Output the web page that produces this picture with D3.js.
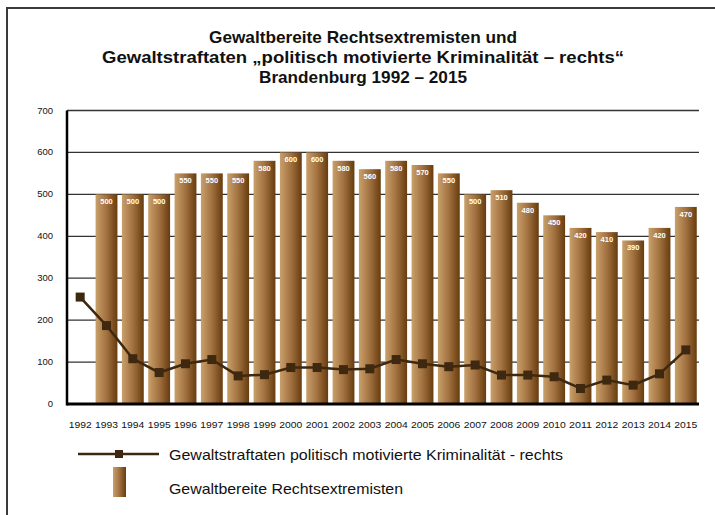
<!DOCTYPE html>
<html>
<head>
<meta charset="utf-8">
<script src="https://cdn.jsdelivr.net/npm/d3@7"></script>
<style>
  body { margin: 0; background: #fff; }
  svg { font-family: "Liberation Sans", Arial, sans-serif; }
</style>
</head>
<body>
<svg id="chart" width="715" height="515"></svg>
<script>
// data
const years = ["1992","1993","1994","1995","1996","1997","1998","1999","2000","2001","2002","2003",
               "2004","2005","2006","2007","2008","2009","2010","2011","2012","2013","2014","2015"];
const bereite = [null,500,500,500,550,550,550,580,600,600,580,560,580,570,550,500,510,480,450,420,410,390,420,470];
const straftaten = [255,187,108,75,96,106,67,70,87,87,82,84,106,96,89,93,69,69,65,37,57,45,72,129];
const yTicks = [0,100,200,300,400,500,600,700];
const titleLines = ["Gewaltbereite Rechtsextremisten und",
                    "Gewaltstraftaten \u201Epolitisch motivierte Kriminalit\u00E4t \u2013 rechts\u201C",
                    "Brandenburg 1992 \u2013 2015"];
const titleWidths = [308, 522, 208];
const legendLine = "Gewaltstraftaten politisch motivierte Kriminalit\u00E4t - rechts";
const legendBar = "Gewaltbereite Rechtsextremisten";

const svg = d3.select("#chart");
const margin = { top: 110.5, left: 67, right: 16, bottom: 111 };
const width = 715 - margin.left - margin.right;
const height = 515 - margin.top - margin.bottom;

// frame (only top and left edge visible)
svg.append("path")
    .attr("d", "M7,520 L7,8 L720,8")
    .attr("fill", "none")
    .attr("stroke", "#3a3a3a")
    .attr("stroke-width", 2);

const defs = svg.append("defs");
const grad = defs.append("linearGradient").attr("id", "barGrad")
    .attr("x1", "0%").attr("x2", "100%").attr("y1", "0%").attr("y2", "0%");
grad.append("stop").attr("offset", "0%").attr("stop-color", "#c9a06a");
grad.append("stop").attr("offset", "50%").attr("stop-color", "#a27140");
grad.append("stop").attr("offset", "100%").attr("stop-color", "#673c0e");

// title
svg.append("g").selectAll("text")
    .data(titleLines)
    .enter()
    .append("text")
    .attr("x", 363)
    .attr("y", (d, i) => 43 + i * 20)
    .attr("text-anchor", "middle")
    .attr("font-size", "17px")
    .attr("font-weight", "bold")
    .attr("fill", "#111")
    .attr("textLength", (d, i) => titleWidths[i])
    .attr("lengthAdjust", "spacingAndGlyphs")
    .text(d => d);

const g = svg.append("g").attr("transform", `translate(${margin.left},${margin.top})`);

const x = d3.scaleBand().domain(years).range([0, width]).paddingInner(0.17).paddingOuter(0.085);
const xc = d3.scaleBand().domain(years).range([0, width]);
const y = d3.scaleLinear().domain([0, 700]).range([height, 0]);

// gridlines
g.append("g").selectAll("line")
    .data(yTicks.slice(1))
    .enter()
    .append("line")
    .attr("x1", 0).attr("x2", width)
    .attr("y1", d => y(d)).attr("y2", d => y(d))
    .attr("stroke", "#333")
    .attr("stroke-width", 1.3);

// y labels
g.append("g").selectAll("text")
    .data(yTicks)
    .enter()
    .append("text")
    .attr("x", -14)
    .attr("y", d => y(d) + 3)
    .attr("text-anchor", "end")
    .attr("font-size", "9.5px")
    .attr("fill", "#111")
    .text(d => d);

// bars
const barData = years.map((yr, i) => ({ yr, v: bereite[i] })).filter(d => d.v != null);
g.append("g").selectAll("rect")
    .data(barData)
    .enter()
    .append("rect")
    .attr("x", d => x(d.yr))
    .attr("y", d => y(d.v))
    .attr("width", x.bandwidth())
    .attr("height", d => height - y(d.v))
    .attr("fill", "url(#barGrad)");

g.append("g").selectAll("text")
    .data(barData)
    .enter()
    .append("text")
    .attr("x", d => x(d.yr) + x.bandwidth() / 2)
    .attr("y", d => y(d.v) + 10)
    .attr("text-anchor", "middle")
    .attr("font-size", "7.5px")
    .attr("font-weight", "bold")
    .attr("fill", "#fff")
    .text(d => d.v);

// axes lines
g.append("line")
    .attr("x1", 0).attr("x2", width)
    .attr("y1", height).attr("y2", height)
    .attr("stroke", "#000").attr("stroke-width", 3);
g.append("line")
    .attr("x1", 0).attr("x2", 0)
    .attr("y1", 0).attr("y2", height + 1.5)
    .attr("stroke", "#000").attr("stroke-width", 2.5);

// x labels
g.append("g").selectAll("text")
    .data(years)
    .enter()
    .append("text")
    .attr("x", d => xc(d) + xc.bandwidth() / 2)
    .attr("y", height + 24)
    .attr("text-anchor", "middle")
    .attr("font-size", "9.5px")
    .attr("fill", "#111")
    .attr("textLength", 23)
    .attr("lengthAdjust", "spacingAndGlyphs")
    .text(d => d);

// line series
const lineColor = "#3e2810";
const line = d3.line()
    .x((d, i) => xc(years[i]) + xc.bandwidth() / 2)
    .y(d => y(d));
g.append("path")
    .datum(straftaten)
    .attr("d", line)
    .attr("fill", "none")
    .attr("stroke", lineColor)
    .attr("stroke-width", 2.5);

g.append("g").selectAll("rect")
    .data(straftaten)
    .enter()
    .append("rect")
    .attr("x", (d, i) => xc(years[i]) + xc.bandwidth() / 2 - 4.5)
    .attr("y", d => y(d) - 4.5)
    .attr("width", 9)
    .attr("height", 9)
    .attr("fill", lineColor);

// legend
const lg = svg.append("g");
lg.append("line")
    .attr("x1", 78).attr("x2", 159)
    .attr("y1", 454).attr("y2", 454)
    .attr("stroke", lineColor).attr("stroke-width", 2.5);
lg.append("rect")
    .attr("x", 115).attr("y", 450)
    .attr("width", 8).attr("height", 8)
    .attr("fill", lineColor);
lg.append("text")
    .attr("x", 169).attr("y", 460)
    .attr("font-size", "15px")
    .attr("fill", "#111")
    .attr("textLength", 394)
    .attr("lengthAdjust", "spacingAndGlyphs")
    .text(legendLine);
lg.append("rect")
    .attr("x", 113).attr("y", 467)
    .attr("width", 13).attr("height", 30)
    .attr("fill", "url(#barGrad)");
lg.append("text")
    .attr("x", 169).attr("y", 494)
    .attr("font-size", "15px")
    .attr("fill", "#111")
    .attr("textLength", 234)
    .attr("lengthAdjust", "spacingAndGlyphs")
    .text(legendBar);
</script>
</body>
</html>
